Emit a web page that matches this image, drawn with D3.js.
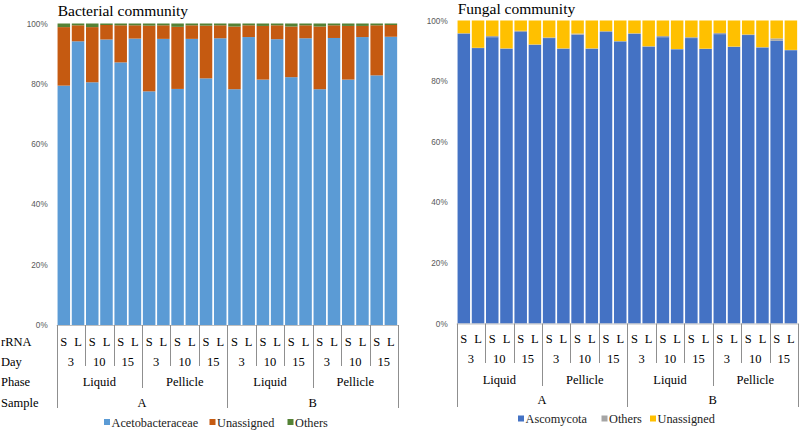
<!DOCTYPE html>
<html>
<head>
<meta charset="utf-8">
<script src="https://cdn.jsdelivr.net/npm/d3@7"></script>
<style>
  html, body { margin: 0; padding: 0; background: #fff; }
  svg { display: block; }
</style>
</head>
<body>
<svg id="chart" width="800" height="431"></svg>
<script>
// ---- Category levels ----
const samples = ["A", "B"];
const phases = ["Liquid", "Pellicle"];
const days = ["3", "10", "15"];
const rrna = ["S", "L"];
const rowLabels = ["rRNA", "Day", "Phase", "Sample"];
const yTicks = [0, 20, 40, 60, 80, 100];

// ---- Bacterial community (%) ----
const bactKeys = ["Acetobacteraceae", "Unassigned", "Others"];
const bactAcetobacteraceae = [79.4, 94.1, 80.5, 94.7, 87.1, 95.0, 77.5, 94.9, 78.3, 94.9, 81.8, 95.1,
                              78.2, 95.5, 81.4, 94.8, 82.2, 95.1, 78.2, 95.2, 81.4, 95.5, 82.8, 95.6];
const bactUnassigned = [19.4, 5.3, 18.3, 4.8, 12.3, 4.4, 21.8, 4.5, 20.6, 4.5, 17.5, 4.3,
                        20.8, 3.9, 17.8, 4.6, 16.8, 4.3, 20.8, 4.2, 17.8, 3.7, 16.6, 3.9];
const bactOthers = [1.2, 0.6, 1.2, 0.5, 0.6, 0.6, 0.7, 0.6, 1.1, 0.6, 0.7, 0.6,
                    1.0, 0.6, 0.8, 0.6, 1.0, 0.6, 1.0, 0.6, 0.8, 0.8, 0.6, 0.5];
const bactColors = ["#5B9BD5", "#C55A11", "#548235"];

// ---- Fungal community (%) ----
const fungKeys = ["Ascomycota", "Others", "Unassigned"];
const fungAscomycota = [95.7, 90.9, 94.5, 90.7, 96.2, 92.0, 94.2, 90.7, 95.3, 90.7, 96.2, 93.1,
                        95.6, 91.4, 94.5, 90.5, 94.2, 90.6, 95.5, 91.3, 95.2, 91.1, 93.3, 90.2];
const fungOthers = [0.1, 0.1, 0.4, 0.1, 0.4, 0.1, 0.2, 0.1, 0.4, 0.1, 0.3, 0.1,
                    0.2, 0.1, 0.4, 0.1, 0.3, 0.1, 0.4, 0.1, 0.2, 0.1, 0.8, 0.1];
const fungUnassigned = [4.2, 9.0, 5.1, 9.2, 3.4, 7.9, 5.6, 9.2, 4.3, 9.2, 3.5, 6.8,
                        4.2, 8.5, 5.1, 9.4, 5.5, 9.3, 4.1, 8.6, 4.6, 8.8, 5.9, 9.7];
const fungColors = ["#4472C4", "#A5A5A5", "#FFC000"];

// Build category list (sample > phase > day > rRNA)
const categories = [];
samples.forEach(s => phases.forEach(p => days.forEach(d => rrna.forEach(r => {
  categories.push({ id: `${s}-${p}-${d}-${r}`, sample: s, phase: p, day: d, rrna: r });
}))));

const svg = d3.select("#chart");
const serif = "'Liberation Serif', 'Times New Roman', serif";
const sans = "'Liberation Sans', Arial, sans-serif";

function drawChart(o) {
  const rows = categories.map((c, i) => {
    const r = { id: c.id };
    o.keys.forEach((k, j) => r[k] = o.values[j][i]);
    return r;
  });
  const n = categories.length;
  const x = d3.scaleBand()
    .domain(categories.map(c => c.id))
    .range([o.x0, o.x0 + o.width])
    .paddingInner(0.12)
    .paddingOuter(0.06);
  const step = x.step();
  const y = d3.scaleLinear().domain([0, 100]).range([o.bottom, o.top]);
  const g = svg.append("g");

  // title
  g.append("text").attr("x", o.x0 + 1).attr("y", o.titleY)
    .attr("font-family", serif).attr("font-size", 15.5).attr("fill", "#000")
    .text(o.title);

  // y axis labels
  g.selectAll(".ytick").data(yTicks).enter().append("text")
    .attr("x", o.x0 - 9).attr("y", d => y(d) + 3)
    .attr("text-anchor", "end").attr("font-family", sans).attr("font-size", 8.2)
    .attr("fill", "#595959").text(d => d + "%");

  // stacked bars
  const stack = d3.stack().keys(o.keys)(rows);
  g.selectAll(".layer").data(stack).enter().append("g")
    .attr("fill", (d, i) => o.colors[i])
    .selectAll("rect").data(d => d).enter().append("rect")
    .attr("x", d => x(d.data.id))
    .attr("width", x.bandwidth())
    .attr("y", d => y(d[1]))
    .attr("height", d => Math.max(0, y(d[0]) - y(d[1])));

  // axis baseline
  g.append("line").attr("x1", o.x0).attr("x2", o.x0 + o.width)
    .attr("y1", o.bottom + 0.5).attr("y2", o.bottom + 0.5)
    .attr("stroke", "#bfbfbf").attr("stroke-width", 1);

  // table boundaries
  const lineColor = "#8f8f8f";
  for (let i = 0; i <= n; i++) {
    let yEnd = null;
    if (i % 12 === 0) yEnd = o.lineEnds[2];
    else if (i % 6 === 0) yEnd = o.lineEnds[1];
    else if (i % 2 === 0) yEnd = o.lineEnds[0];
    if (yEnd === null) continue;
    const xx = Math.round(o.x0 + i * step) + 0.5;
    g.append("line").attr("x1", xx).attr("x2", xx)
      .attr("y1", o.bottom).attr("y2", yEnd)
      .attr("stroke", lineColor).attr("stroke-width", 1);
  }

  const tf = 12.5;
  // rRNA labels
  g.selectAll(".rr").data(categories).enter().append("text")
    .attr("x", d => x(d.id) + x.bandwidth() / 2)
    .attr("y", o.rowY[0] + 4.5)
    .attr("text-anchor", "middle").attr("font-family", serif).attr("font-size", tf)
    .text(d => d.rrna);
  // Day labels
  const dayGroups = d3.range(0, n, 2).map(i => ({ i, label: categories[i].day }));
  g.selectAll(".dy").data(dayGroups).enter().append("text")
    .attr("x", d => o.x0 + (d.i + 1) * step)
    .attr("y", o.rowY[1] + 4.5)
    .attr("text-anchor", "middle").attr("font-family", serif).attr("font-size", tf)
    .text(d => d.label);
  // Phase labels
  const phaseGroups = d3.range(0, n, 6).map(i => ({ i, label: categories[i].phase }));
  g.selectAll(".ph").data(phaseGroups).enter().append("text")
    .attr("x", d => o.x0 + (d.i + 3) * step)
    .attr("y", o.rowY[2] + 4.5)
    .attr("text-anchor", "middle").attr("font-family", serif).attr("font-size", tf)
    .text(d => d.label);
  // Sample labels
  const sampleGroups = d3.range(0, n, 12).map(i => ({ i, label: categories[i].sample }));
  g.selectAll(".sm").data(sampleGroups).enter().append("text")
    .attr("x", d => o.x0 + (d.i + 6) * step)
    .attr("y", o.rowY[3] + 4.5)
    .attr("text-anchor", "middle").attr("font-family", serif).attr("font-size", tf)
    .text(d => d.label);

  if (o.showRowLabels) {
    g.selectAll(".rl").data(rowLabels).enter().append("text")
      .attr("x", 1).attr("y", (d, i) => o.rowY[i] + 4.5)
      .attr("font-family", serif).attr("font-size", tf).text(d => d);
  }

  // legend
  const lg = g.append("g");
  o.legendOrder.forEach((k, idx) => {
    const ci = o.keys.indexOf(k);
    const lx = o.legendX[idx];
    lg.append("rect").attr("x", lx).attr("y", o.legendY - 3.5).attr("width", 6).attr("height", 6)
      .attr("fill", o.colors[ci]);
    lg.append("text").attr("x", lx + 7.5).attr("y", o.legendY + 4)
      .attr("font-family", serif).attr("font-size", 12.3).attr("fill", "#222").text(k);
  });
}

drawChart({
  title: "Bacterial community", titleY: 16,
  x0: 56.7, width: 341.3, top: 23.5, bottom: 325,
  keys: bactKeys, values: [bactAcetobacteraceae, bactUnassigned, bactOthers], colors: bactColors,
  rowY: [341.5, 361.7, 381.7, 402.5],
  lineEnds: [366, 388, 408],
  showRowLabels: true,
  legendOrder: ["Acetobacteraceae", "Unassigned", "Others"],
  legendX: [104, 209.5, 287.5], legendY: 422.5
});

drawChart({
  title: "Fungal community", titleY: 14,
  x0: 456.7, width: 341.3, top: 20.5, bottom: 323.5,
  keys: fungKeys, values: [fungAscomycota, fungOthers, fungUnassigned], colors: fungColors,
  rowY: [338.5, 358.5, 379, 399.5],
  lineEnds: [363, 386, 407],
  showRowLabels: false,
  legendOrder: ["Ascomycota", "Others", "Unassigned"],
  legendX: [518, 601.5, 650], legendY: 419
});
</script>
</body>
</html>
